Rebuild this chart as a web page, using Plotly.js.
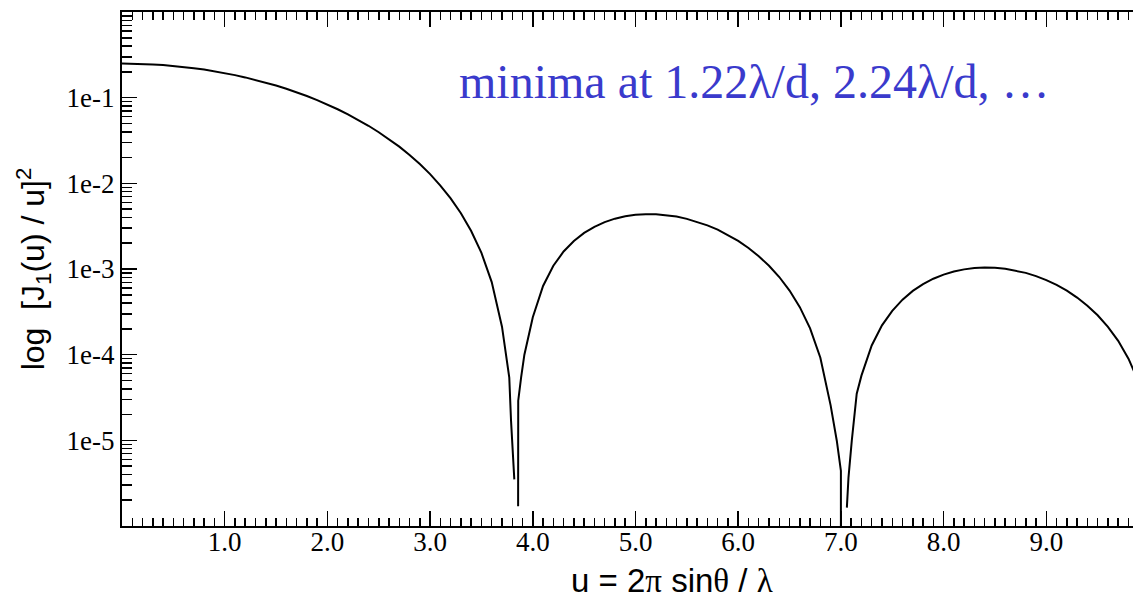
<!DOCTYPE html>
<html>
<head>
<meta charset="utf-8">
<script src="https://cdn.plot.ly/plotly-3.0.1.min.js"></script>
<style>
  html, body { margin: 0; padding: 0; overflow: hidden; background: #fff; }
  #chart { width: 1160px; height: 599px; }
</style>
</head>
<body>
<div id="chart"></div>
<script>
// u = 2π sinθ / λ
const uValues = [
  0, 0.1, 0.2, 0.3, 0.4, 0.5, 0.6, 0.7, 0.8, 0.9,
  1.0, 1.1, 1.2, 1.3, 1.4, 1.5, 1.6, 1.7, 1.8, 1.9,
  2.0, 2.1, 2.2, 2.3, 2.4, 2.5, 2.6, 2.7, 2.8, 2.9,
  3.0, 3.1, 3.2, 3.3, 3.4, 3.5, 3.6, 3.7, 3.771, 3.788, 3.82,
  null,
  3.857, 3.858, 3.886, 3.918,
  4.0, 4.1, 4.2, 4.3, 4.4, 4.5, 4.6, 4.7, 4.8, 4.9,
  5.0, 5.1, 5.2, 5.3, 5.4, 5.5, 5.6, 5.7, 5.8, 5.9,
  6.0, 6.1, 6.2, 6.3, 6.4, 6.5, 6.6, 6.7, 6.8, 6.9, 6.96, 7.0, 7.0,
  null,
  7.058, 7.074, 7.106, 7.154,
  7.2, 7.3, 7.4, 7.5, 7.6, 7.7, 7.8, 7.9,
  8.0, 8.1, 8.2, 8.3, 8.4, 8.5, 8.6, 8.7, 8.8, 8.9,
  9.0, 9.1, 9.2, 9.3, 9.4, 9.5, 9.6, 9.7, 9.8, 9.9, 10.0
];
// [J1(u)/u]^2
const intensity = [
  0.25, 0.2494, 0.2475, 0.2444, 0.2402, 0.2348, 0.2283, 0.2209, 0.2126, 0.2035,
  0.1936, 0.1833, 0.1724, 0.1612, 0.1499, 0.1384, 0.1269, 0.1155, 0.1044, 0.0936,
  0.0832, 0.0732, 0.0639, 0.0551, 0.0470, 0.0395, 0.0328, 0.0268, 0.0214, 0.0168,
  0.0128, 0.00942, 0.00667, 0.00447, 0.00278, 0.00154, 0.000703, 0.000212, 5.4e-5, 1.7e-5, 3.5e-6,
  null,
  1.7e-6, 2.9e-5, 5.4e-5, 1.0e-4,
  2.73e-4, 6.34e-4, 1.09e-3, 1.60e-3, 2.12e-3, 2.64e-3, 3.11e-3, 3.53e-3, 3.87e-3, 4.12e-3,
  4.29e-3, 4.37e-3, 4.36e-3, 4.26e-3, 4.09e-3, 3.85e-3, 3.56e-3, 3.23e-3, 2.88e-3, 2.50e-3,
  2.13e-3, 1.76e-3, 1.41e-3, 1.09e-3, 8.06e-4, 5.60e-4, 3.59e-4, 2.03e-4, 9.2e-5, 2.56e-5, 9.9e-6, 4.4e-6, 4e-7,
  null,
  1.64e-6, 3.7e-6, 9.9e-6, 3.5e-5,
  5.69e-5, 1.28e-4, 2.20e-4, 3.25e-4, 4.39e-4, 5.55e-4, 6.66e-4, 7.70e-4,
  8.60e-4, 9.35e-4, 9.90e-4, 1.025e-3, 1.039e-3, 1.033e-3, 1.006e-3, 9.61e-4, 9.01e-4, 8.27e-4,
  7.43e-4, 6.52e-4, 5.59e-4, 4.64e-4, 3.73e-4, 2.88e-4, 2.11e-4, 1.45e-4, 8.97e-5, 4.77e-5, 1.89e-5
];

const xTickVals = [1, 2, 3, 4, 5, 6, 7, 8, 9];
const xTickText = ['1.0', '2.0', '3.0', '4.0', '5.0', '6.0', '7.0', '8.0', '9.0'];
const yTickVals = [1e-1, 1e-2, 1e-3, 1e-4, 1e-5];
const yTickText = ['1e-1', '1e-2', '1e-3', '1e-4', '1e-5'];

const yMinorVals = [];
for (let k = -6; k <= -1; k++) {
  for (let m = 2; m <= 9; m++) yMinorVals.push(m * Math.pow(10, k));
}

const trace = {
  x: uValues,
  y: intensity,
  type: 'scatter',
  mode: 'lines',
  connectgaps: false,
  line: { color: '#000000', width: 2 },
  hoverinfo: 'x+y'
};

const serif = 'Liberation Serif, Times New Roman, serif';
const sans = 'Liberation Sans, Arial, Helvetica, sans-serif';

const layout = {
  width: 1160,
  height: 599,
  margin: { l: 122, r: 11, t: 12, b: 73, pad: 0 },
  paper_bgcolor: '#ffffff',
  plot_bgcolor: '#ffffff',
  showlegend: false,
  xaxis: {
    range: [0, 10],
    showline: true, linecolor: '#000', linewidth: 2, mirror: 'ticks',
    ticks: 'inside', ticklen: 15, tickwidth: 1.5, tickcolor: '#000',
    tickmode: 'array', tickvals: xTickVals, ticktext: xTickText,
    tickfont: { family: serif, size: 27, color: '#000' },
    ticklabelstandoff: -9,
    showgrid: false, zeroline: false,
    minor: { tickmode: 'linear', tick0: 0, dtick: 0.1, ticks: 'inside', ticklen: 8, tickwidth: 1.5, tickcolor: '#000', showgrid: false }
  },
  yaxis: {
    type: 'log',
    range: [-6, 0],
    showline: true, linecolor: '#000', linewidth: 2, mirror: 'ticks',
    ticks: 'inside', ticklen: 15, tickwidth: 1.5, tickcolor: '#000',
    tickmode: 'array', tickvals: yTickVals, ticktext: yTickText,
    tickfont: { family: serif, size: 27, color: '#000' },
    showgrid: false, zeroline: false,
    title: {
      text: 'log  [J<sub>1</sub>(u) / u]<sup>2</sup>',
      font: { family: sans, size: 32, color: '#000' },
      standoff: 12
    },
    minor: { tickmode: 'array', tickvals: yMinorVals, ticks: 'inside', ticklen: 10, tickwidth: 1.5, tickcolor: '#000', showgrid: false }
  },
  annotations: [
    {
      xref: 'paper', yref: 'paper',
      x: 0.326, y: 0.864, xanchor: 'left', yanchor: 'middle',
      text: 'minima at 1.22λ/d, 2.24λ/d, …',
      showarrow: false,
      font: { family: serif, size: 48, color: '#3a3acc' }
    },
    {
      xref: 'paper', yref: 'paper',
      x: 0.5355, y: -0.107, xanchor: 'center', yanchor: 'middle',
      text: 'u = 2<span style="font-family:Liberation Serif">π</span> sin<span style="font-family:Liberation Serif">θ</span> / <span style="font-family:Liberation Serif">λ</span>',
      showarrow: false,
      font: { family: sans, size: 33, color: '#000' }
    }
  ]
};

Plotly.newPlot('chart', [trace], layout, { staticPlot: true, displayModeBar: false });
</script>
</body>
</html>
